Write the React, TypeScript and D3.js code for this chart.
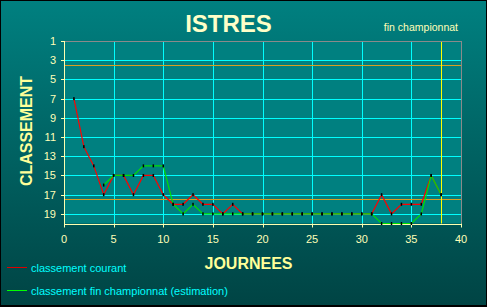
import React from "react";
import * as d3 from "d3";

const journees: number[] = Array.from({ length: 38 }, (_, i) => i + 1);
const classementCourant: (number | null)[] = [
  7, 12, 14, 17, 15, 15, 17, 15, 15, 17,
  18, 18, 17, 18, 18, 19, 18, 19, 19, 19,
  19, 19, 19, 19, 19, 19, 19, 19, 19, 19,
  19, 17, 19, 18, 18, 18, 15, 17,
];
const classementFin: (number | null)[] = [
  null, null, null, 16, 15, 15, 15, 14, 14, 14,
  18, 19, 18, 19, 19, 19, 19, 19, 19, 19,
  19, 19, 19, 19, 19, 19, 19, 19, 19, 19,
  19, 20, 20, 20, 20, 19, 15, 17,
];
const yTicks: number[] = [1, 3, 5, 7, 9, 11, 13, 15, 17, 19];
const xTicks: number[] = [0, 5, 10, 15, 20, 25, 30, 35, 40];
const yGrid: number[] = [3, 5, 7, 9, 11, 13, 15, 17, 19];
const xGrid: number[] = [5, 10, 15, 20, 25, 30, 35];
const limitLines: number[] = [3.5, 17.5];
const lastJournee = 38;

const W = 487;
const H = 307;
const FONT = "'Liberation Sans', Arial, sans-serif";
const LABEL = "#FFFFB8";

export default function App() {
  const x = d3.scaleLinear().domain([0, 40]).range([64, 461]);
  const y = d3.scaleLinear().domain([1, 20]).range([41, 223.5]);

  const line = d3
    .line<[number, number | null]>()
    .defined((d) => d[1] != null)
    .x((d) => x(d[0]))
    .y((d) => y(d[1] as number));

  const red = journees.map((j, i) => [j, classementCourant[i]] as [number, number | null]);
  const green = journees.map((j, i) => [j, classementFin[i]] as [number, number | null]);

  const markers = [...red, ...green].filter((d) => d[1] != null);

  return (
    <svg
      width={W}
      height={H}
      style={{ position: "absolute", left: 0, top: 0, display: "block" }}
      fontFamily={FONT}
    >
      <defs>
        <linearGradient id="bg" x1="0" y1="0" x2="0" y2="1">
          <stop offset="0%" stopColor="#008080" />
          <stop offset="100%" stopColor="#004444" />
        </linearGradient>
      </defs>
      <rect x={0} y={0} width={W} height={H} fill="#000" />
      <rect x={1} y={1} width={W - 2} height={H - 3} fill="url(#bg)" />

      {/* plot area */}
      <rect x={x(0)} y={y(1)} width={x(40) - x(0)} height={y(20) - y(1)} fill="#008080" />

      {yGrid.map((v) => (
        <line key={"yg" + v} x1={x(0)} x2={x(40)} y1={Math.round(y(v)) + 0.5} y2={Math.round(y(v)) + 0.5} stroke="#00FFFF" strokeWidth={1} />
      ))}
      {xGrid.map((v) => (
        <line key={"xg" + v} x1={Math.round(x(v)) + 0.5} x2={Math.round(x(v)) + 0.5} y1={y(1)} y2={y(20)} stroke="#00FFFF" strokeWidth={1} />
      ))}
      {limitLines.map((v) => (
        <line key={"ll" + v} x1={x(0)} x2={x(40)} y1={Math.round(y(v)) + 0.5} y2={Math.round(y(v)) + 0.5} stroke="#D8A020" strokeWidth={1} />
      ))}
      <line x1={Math.round(x(lastJournee)) + 0.5} x2={Math.round(x(lastJournee)) + 0.5} y1={y(1)} y2={y(20)} stroke="#FFFF00" strokeWidth={1} />

      {/* border top/right */}
      <line x1={x(0)} x2={x(40)} y1={Math.round(y(1)) + 0.5} y2={Math.round(y(1)) + 0.5} stroke="#8A8A8A" />
      <line x1={Math.round(x(40)) + 0.5} x2={Math.round(x(40)) + 0.5} y1={y(1)} y2={y(20)} stroke="#8A8A8A" />

      {/* axes */}
      <line x1={Math.round(x(0)) + 0.5} x2={Math.round(x(0)) + 0.5} y1={y(1)} y2={y(20) + 1} stroke="#FFFFB0" />
      <line x1={x(0)} x2={x(40) + 1} y1={Math.round(y(20)) + 0.5} y2={Math.round(y(20)) + 0.5} stroke="#FFFFB0" />
      {yTicks.map((v) => (
        <g key={"yt" + v}>
          <line x1={x(0) - 3} x2={x(0)} y1={Math.round(y(v)) + 0.5} y2={Math.round(y(v)) + 0.5} stroke="#FFFFB0" />
          <text x={56} y={y(v) + 4} textAnchor="end" fontSize={11} fill={LABEL}>
            {v}
          </text>
        </g>
      ))}
      {xTicks.map((v) => (
        <g key={"xt" + v}>
          <line x1={Math.round(x(v)) + 0.5} x2={Math.round(x(v)) + 0.5} y1={y(20)} y2={y(20) + 4} stroke="#FFFFB0" />
          <text x={x(v)} y={243} textAnchor="middle" fontSize={11} fill={LABEL}>
            {v}
          </text>
        </g>
      ))}

      {/* series */}
      <path d={line(red) || ""} fill="none" stroke="#FF0000" strokeWidth={1.2} />
      <path d={line(green) || ""} fill="none" stroke="#00E000" strokeWidth={1.2} />
      {markers.map((d, i) => (
        <rect key={"m" + i} x={x(d[0]) - 0.75} y={y(d[1] as number) - 1.5} width={1.5} height={3} fill="#000" />
      ))}

      {/* titles */}
      <text x={228.5} y={31.5} textAnchor="middle" fontSize={24} fontWeight="bold" fill="#FFFFC8">
        ISTRES
      </text>
      <text x={458} y={31} textAnchor="end" fontSize={10.5} fill={LABEL}>
        fin championnat
      </text>
      <text
        transform={`translate(32,131) rotate(-90)`}
        textAnchor="middle"
        fontSize={16}
        fontWeight="bold"
        fill="#FFFF99"
      >
        CLASSEMENT
      </text>
      <text x={248.5} y={269} textAnchor="middle" fontSize={16} fontWeight="bold" fill="#FFFF99">
        JOURNEES
      </text>

      {/* legend */}
      <line x1={7} x2={27} y1={267.5} y2={267.5} stroke="#DD0000" strokeWidth={1} />
      <text x={31} y={272} fontSize={11} fill="#00FFFF">
        classement courant
      </text>
      <line x1={7} x2={27} y1={290.5} y2={290.5} stroke="#00FF00" strokeWidth={1} />
      <text x={31} y={295} fontSize={11} fill="#00FFFF">
        classement fin championnat (estimation)
      </text>
    </svg>
  );
}
